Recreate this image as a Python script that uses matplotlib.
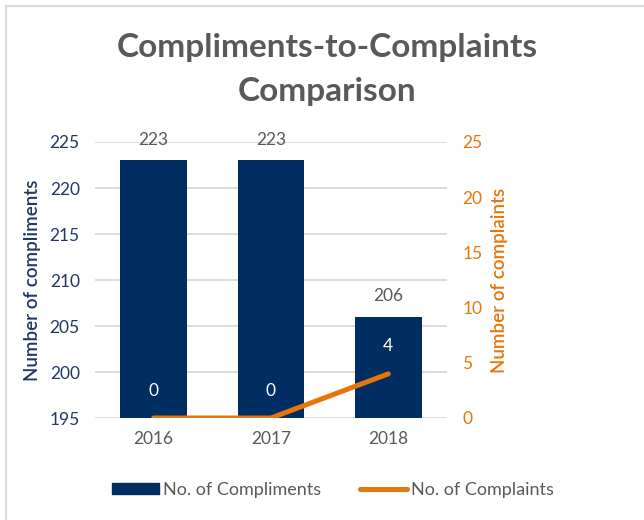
import numpy as np
import matplotlib
matplotlib.use("Agg")
import matplotlib.pyplot as plt
from matplotlib.lines import Line2D
from matplotlib.patches import Patch

years = ["2016", "2017", "2018"]
compliments = [223, 223, 206]
complaints = [0, 0, 4]

NAVY = "#002D62"
ORANGE = "#E8740C"
GREY = "#595959"
AXBLUE = "#1F3864"

plt.rcParams['font.family'] = ['Lato', 'DejaVu Sans']

fig = plt.figure(figsize=(6.44, 5.2), dpi=100)
ax = fig.add_axes([95 / 644, 1 - 418 / 520, 352 / 644, 276 / 520])
ax2 = ax.twinx()

x = np.arange(len(years))
ax.bar(x, compliments, width=0.57, color=NAVY, zorder=2)
ax.set_ylim(195, 225)
ax.set_xlim(-0.5, 2.5)
ax.set_yticks(range(195, 226, 5))
ax.set_xticks(x)
ax.set_xticklabels(years)
ax.grid(axis='y', color='#D9D9D9', linewidth=1.3, zorder=0)
ax.set_axisbelow(True)

for xi, v in zip(x, compliments):
    ax.annotate(str(v), (xi, v), xytext=(0, 9), textcoords='offset points',
                ha='center', va='bottom', color=GREY, fontsize=12.5)

ax2.plot(x, complaints, color=ORANGE, linewidth=3.6, solid_capstyle='round')
ax2.set_ylim(0, 25)
ax2.set_yticks(range(0, 26, 5))
for xi, v in zip(x, complaints):
    ax2.annotate(str(v), (xi, v), xytext=(0, 14), textcoords='offset points',
                 ha='center', va='bottom', color='white', fontsize=12.5)

for a in (ax, ax2):
    for s in a.spines.values():
        s.set_visible(False)
    a.tick_params(length=0)

ax.tick_params(axis='y', colors=AXBLUE, labelsize=12.5, pad=11)
ax.tick_params(axis='x', colors=GREY, labelsize=12.5, pad=9)
ax2.tick_params(axis='y', colors=ORANGE, labelsize=12.5, pad=11)

ax.set_ylabel("Number of compliments", color=AXBLUE, fontsize=13.5,
              fontweight='semibold', labelpad=6)
ax2.set_ylabel("Number of complaints", color=ORANGE, fontsize=13.5,
               fontweight='semibold', labelpad=6)

fig.text(327 / 644, 1 - 48 / 520, "Compliments-to-Complaints", ha='center', va='center',
         fontsize=24, fontweight='bold', color=GREY)
fig.text(327 / 644, 1 - 91 / 520, "Comparison", ha='center', va='center',
         fontsize=24, fontweight='bold', color=GREY)

handles = [Patch(facecolor=NAVY, edgecolor=NAVY),
           Line2D([0], [0], color=ORANGE, linewidth=3.6, solid_capstyle='round')]
fig.legend(handles, ["No. of Compliments", "No. of Complaints"], loc='center',
           bbox_to_anchor=(333 / 644, 1 - 490 / 520), ncol=2, frameon=False,
           fontsize=13, labelcolor=GREY, handlelength=2.6, handleheight=0.55,
           handletextpad=0.2, columnspacing=2.2)

# light border visible on top and left of the chart area
fig.add_artist(Line2D([6 / 644, 1], [1 - 6 / 520, 1 - 6 / 520], color='#D9D9D9', linewidth=1.6))
fig.add_artist(Line2D([6 / 644, 6 / 644], [0, 1 - 6 / 520], color='#D9D9D9', linewidth=1.6))

fig.savefig("out.png", dpi=100)
